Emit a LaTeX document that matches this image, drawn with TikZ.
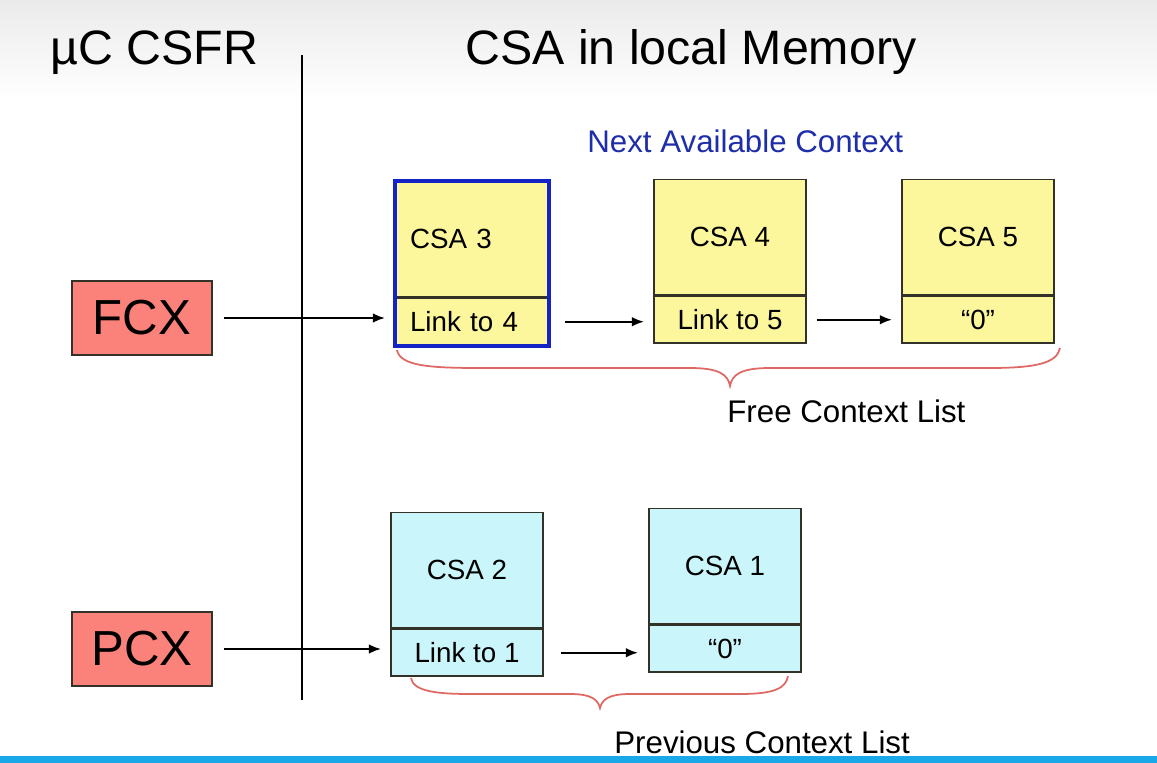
\documentclass[tikz,border=0pt]{standalone}
\usepackage{fontspec}
\setmainfont{Liberation Sans}
\usetikzlibrary{positioning,arrows.meta}

\definecolor{csayellow}{RGB}{252,246,156}
\definecolor{csacyan}{RGB}{202,245,250}
\definecolor{regsalmon}{RGB}{250,130,122}
\definecolor{boxline}{RGB}{50,50,40}
\definecolor{nextblue}{RGB}{30,45,170}
\definecolor{edgeblue}{RGB}{20,35,195}
\definecolor{bracered}{RGB}{222,105,100}
\definecolor{barblue}{RGB}{26,168,232}

\tikzset{
  reg/.style={draw=boxline, line width=1.2pt, fill=regsalmon, minimum width=2.8cm, minimum height=1.48cm, inner sep=0pt, font=\fontsize{28}{32}\selectfont},
  csa/.style={draw=boxline, line width=1pt, minimum width=3.04cm, inner sep=0pt, font=\fontsize{15.8}{19}\selectfont},
  ctx/.style={csa, minimum height=2.3cm},
  lnk/.style={csa, minimum height=0.94cm},
  free/.style={fill=csayellow},
  prev/.style={fill=csacyan},
  leftset/.style={inner xsep=0.28cm, text width=2.48cm, align=left},
  arr/.style={-{Latex[length=7pt,width=5.5pt]}, line width=1.3pt},
  brace/.style={draw=bracered, line width=1pt},
  heading/.style={inner sep=0pt, anchor=base west, font=\fontsize{27.5}{32}\selectfont},
  caption/.style={inner sep=0pt, anchor=base west, font=\fontsize{17.8}{21}\selectfont}
}

\begin{document}
\begin{tikzpicture}[x=0.02cm, y=-0.02cm]

  \useasboundingbox (0,0) rectangle (1157,763);
  \shade[top color=black!8, bottom color=white] (0,0) rectangle (1157,100);
  \fill[barblue] (0,756) rectangle (1157,763);

  % headings
  \node (csfr) [heading] at (50,65) {µC CSFR};
  \node (mem) [heading] at (465,65) {CSA in local Memory};
  \draw[line width=1.5pt] (302,55) -- (302,700);

  % registers
  \node (fcx) [reg] at (142,318) {FCX};
  \node (pcx) [reg] at (142,649) {PCX};

  % free context list
  \node (c3) [ctx, free, leftset] at (472,239) {CSA 3};
  \node (c3l) [lnk, free, leftset, below=0pt of c3] {Link to 4};
  \node (c4) [ctx, free] at (730,237) {CSA 4};
  \node (c4l) [lnk, free, below=0pt of c4] {Link to 5};
  \node (c5) [ctx, free] at (978,237) {CSA 5};
  \node (c5l) [lnk, free, below=0pt of c5] {“0”};
  \draw[edgeblue, line width=2.2pt] (c3.north west) rectangle (c3l.south east);

  % previous context list
  \node (c2) [ctx, prev] at (467,570) {CSA 2};
  \node (c2l) [lnk, prev, below=0pt of c2] {Link to 1};
  \node (c1) [ctx, prev] at (725,566) {CSA 1};
  \node (c1l) [lnk, prev, below=0pt of c1] {“0”};

  % links
  \draw[arr, shorten <=0.22cm, shorten >=0.2cm] (fcx.east) -- (fcx.east -| c3l.west);
  \draw[arr, shorten <=0.32cm, shorten >=0.18cm] (c3l.east) -- (c3l.east -| c4l.west);
  \draw[arr, shorten <=0.2cm, shorten >=0.18cm] (c4l.east) -- (c4l.east -| c5l.west);
  \draw[arr, shorten <=0.22cm, shorten >=0.18cm] (pcx.east) -- (pcx.east -| c2l.west);
  \draw[arr, shorten <=0.34cm, shorten >=0.2cm] (c2l.east) -- (c2l.east -| c1l.west);

  % braces
  \draw[brace] (397,350) .. controls (400,366) and (430,368) .. (480,368) -- (690,368)
    .. controls (720,368) and (728,375) .. (730,386) .. controls (732,375) and (740,368) .. (770,368)
    -- (990,368) .. controls (1040,368) and (1057,362) .. (1060,348);
  \draw[brace] (411,678) .. controls (413,692) and (440,694) .. (470,694) -- (570,694)
    .. controls (592,694) and (598,700) .. (600,708) .. controls (602,700) and (608,694) .. (630,694)
    -- (740,694) .. controls (775,694) and (786,688) .. (788,676);

  \node (next) [caption, text=nextblue] at (587,153) {Next Available Context};
  \node (freelist) [caption] at (727,423) {Free Context List};
  \node (prevlist) [caption] at (614,753) {Previous Context List};

\end{tikzpicture}
\end{document}
